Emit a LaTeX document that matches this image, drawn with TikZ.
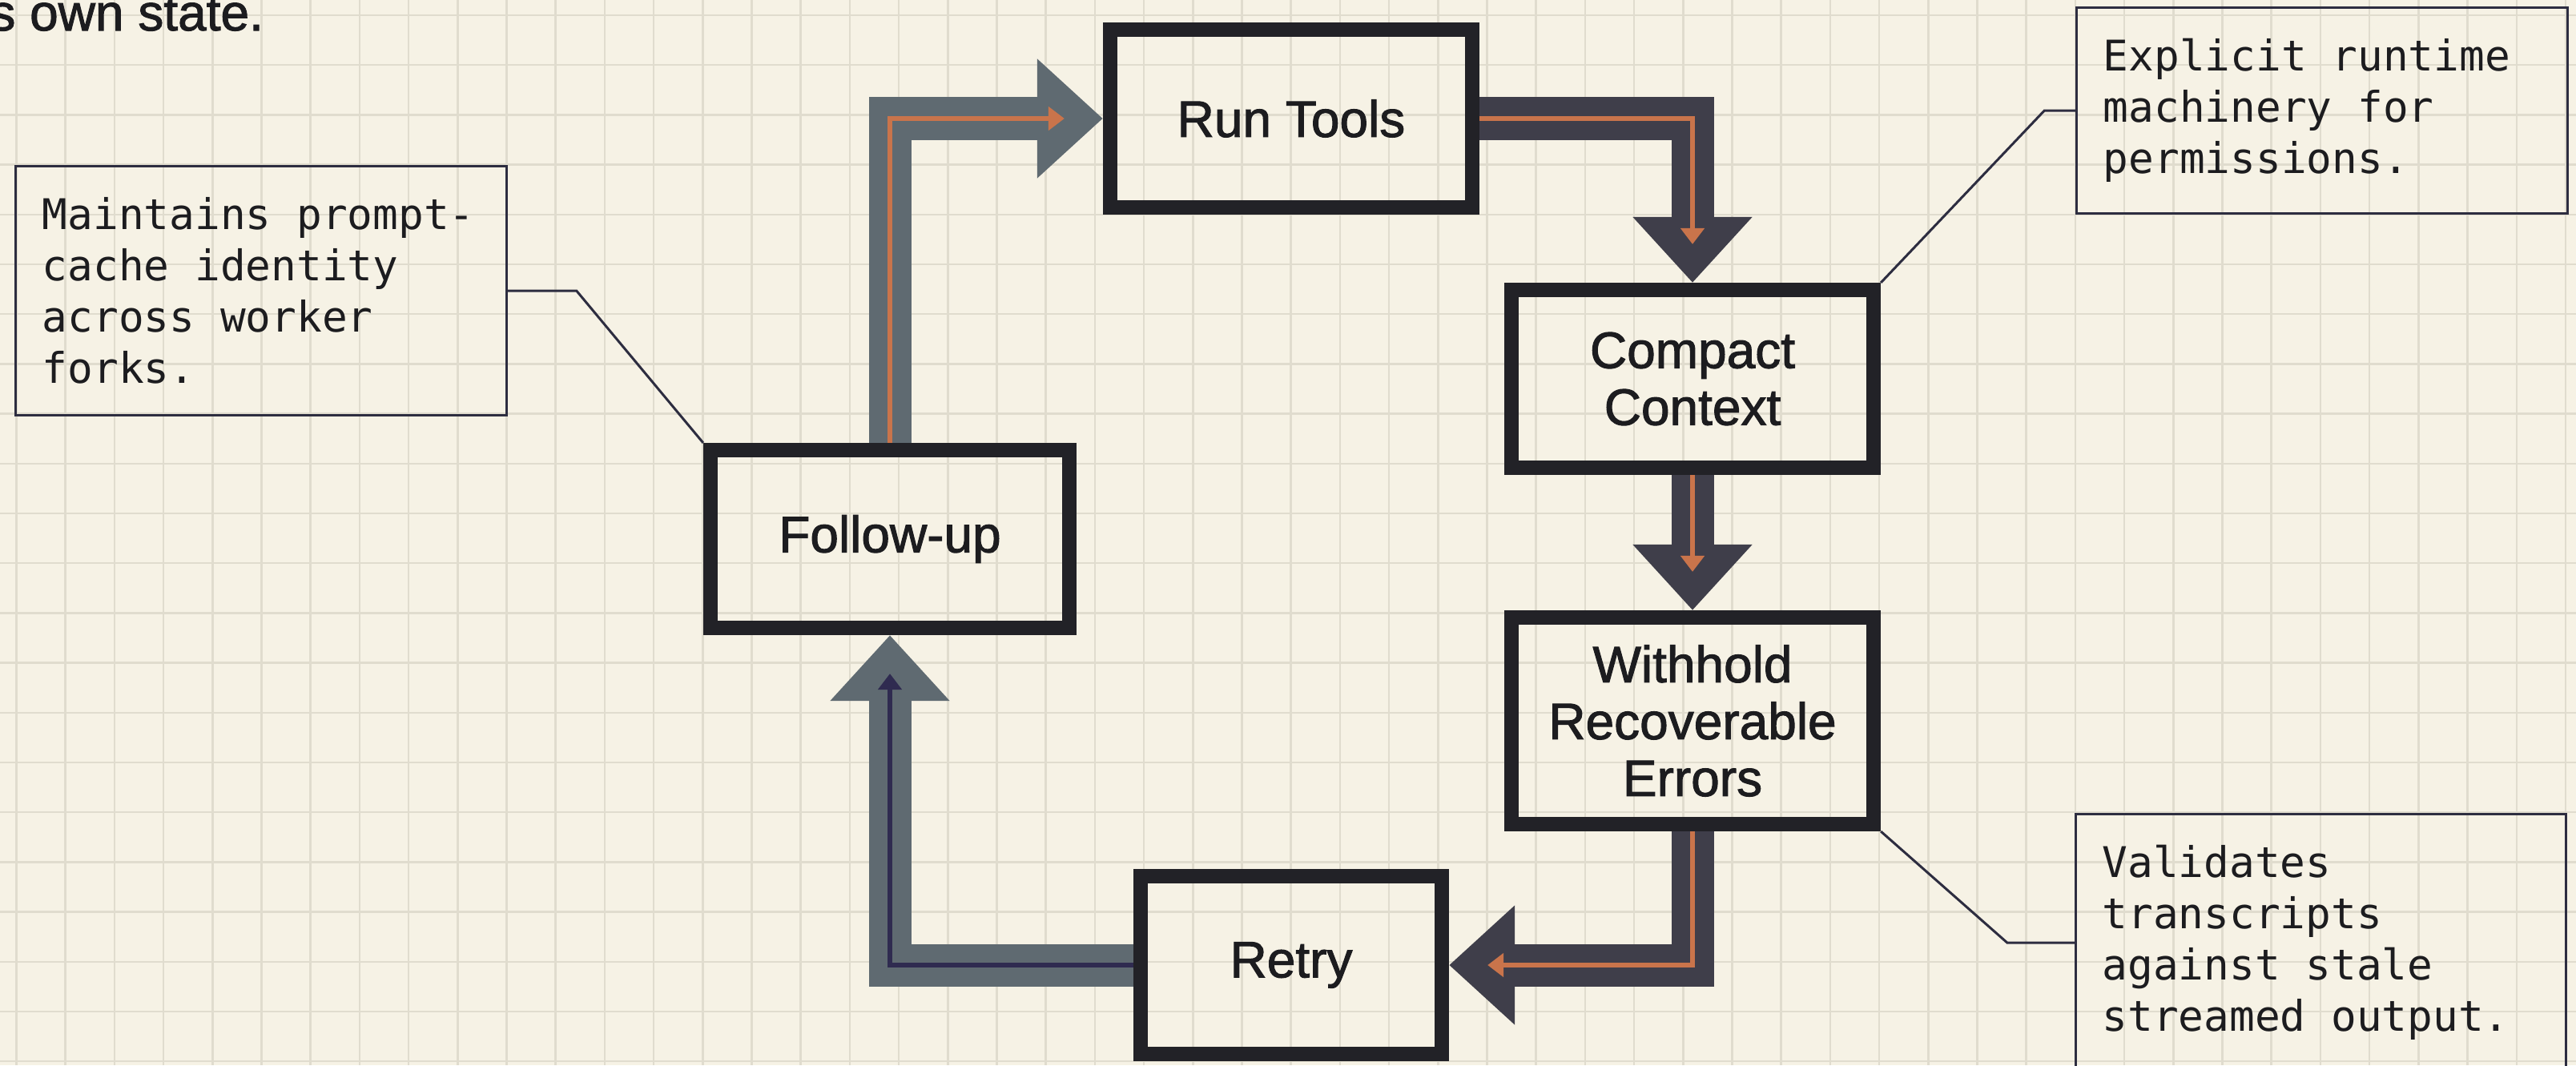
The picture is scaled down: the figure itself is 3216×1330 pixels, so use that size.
\documentclass[tikz,border=0pt]{standalone}
\usepackage{fontspec}
\setmainfont{Liberation Sans}
\newfontfamily\boxfont[FakeBold=1.6]{Liberation Sans}
\newfontfamily\notefont{DejaVu Sans Mono}
\usetikzlibrary{arrows.meta}

\definecolor{paper}{HTML}{F6F2E5}
\definecolor{gridline}{HTML}{E0DCCE}
\definecolor{boxline}{HTML}{222227}
\definecolor{inktext}{HTML}{1C1C1F}
\definecolor{flowgray}{HTML}{5F6A71}
\definecolor{flowdark}{HTML}{3F3E4A}
\definecolor{flowcore}{HTML}{C9744B}
\definecolor{backcore}{HTML}{2F2B50}
\definecolor{noteline}{HTML}{2D2D40}

\newcommand\boxtextstyle{\boxfont\fontsize{18.2}{20.2}\selectfont}
\newcommand\notetextstyle{\notefont\fontsize{15}{18.2}\selectfont}
\newcommand\gridxstep{61.2}
\newcommand\gridystep{62.2}

\tikzset{
  loopbox/.style={draw=boxline, line width=0.18cm, inner sep=0pt,
    minimum width=4.52cm, minimum height=2.22cm, align=center,
    text=inktext, font=\boxtextstyle},
  notebox/.style={draw=noteline, line width=0.03cm, text width=5.46cm,
    inner xsep=0.33cm, inner ysep=0.39cm, align=flush left,
    text=inktext, font=\notetextstyle},
  leader/.style={draw=noteline, line width=0.03cm},
  shaft/.style={line width=0.53cm, -{Triangle[length=0.82cm, width=1.44cm]}},
  core/.style={line width=0.065cm, shorten >=0.48cm,
    -{Triangle[length=0.2cm, width=0.29cm]}},
}

\begin{document}
\begin{tikzpicture}[x=0.01cm, y=-0.01cm]
    \useasboundingbox (0, 0) rectangle (3216, 1330) ;
    \fill[paper] (0, 0) rectangle (3216, 1330) ;
    \foreach \i in {0,...,52}
      \draw[gridline, line width=0.025cm] ({20.5 + \gridxstep * \i}, 0) -- ++ (0, 1330) ;
    \foreach \j in {0,...,21}
      \draw[gridline, line width=0.025cm] (0, {19 + \gridystep * \j}) -- ++ (3216, 0) ;

    \node[anchor=base west, text=inktext, font=\boxtextstyle] (tail) at (-25, 38) {s own state.} ;

    \node[loopbox] (run) at (1612, 148) {Run Tools} ;
    \node[loopbox] (compact) at (2113, 473) {Compact\\Context} ;
    \node[loopbox, minimum height=2.58cm] (withhold) at (2113, 900) {Withhold\\Recoverable\\Errors} ;
    \node[loopbox, minimum width=3.76cm] (retry) at (1612, 1205) {Retry} ;
    \node[loopbox, minimum width=4.48cm] (follow) at (1111, 673) {Follow-up} ;

    \draw[shaft, flowgray] (follow.north) |- (run.west) ;
    \draw[core, flowcore] (follow.north) |- (run.west) ;
    \draw[shaft, flowdark] (run.east) -| (compact.north) ;
    \draw[core, flowcore] (run.east) -| (compact.north) ;
    \draw[shaft, flowdark] (compact.south) -- (withhold.north) ;
    \draw[core, flowcore] (compact.south) -- (withhold.north) ;
    \draw[shaft, flowdark] (withhold.south) |- (retry.east) ;
    \draw[core, flowcore] (withhold.south) |- (retry.east) ;
    \draw[shaft, flowgray] (retry.west) -| (follow.south) ;
    \draw[core, backcore] (retry.west) -| (follow.south) ;

    \node[notebox] (notefork) at (326, 363) {Maintains prompt-\\cache identity\\across worker\\forks.} ;
    \node[notebox] (noteperm) at (2899, 138) {Explicit runtime\\machinery for\\permissions.} ;
    \node[notebox, anchor=north west] (notestale) at (2590, 1015) {Validates\\transcripts\\against stale\\streamed output.} ;

    \draw[leader] (notefork.east) -- ++ (86, 0) -- (follow.north west) ;
    \draw[leader] (noteperm.west) -- ++ (-39, 0) -- (compact.north east) ;
    \draw[leader] (notestale.west) -- ++ (-84, 0) -- (withhold.south east) ;
\end{tikzpicture}
\end{document}
